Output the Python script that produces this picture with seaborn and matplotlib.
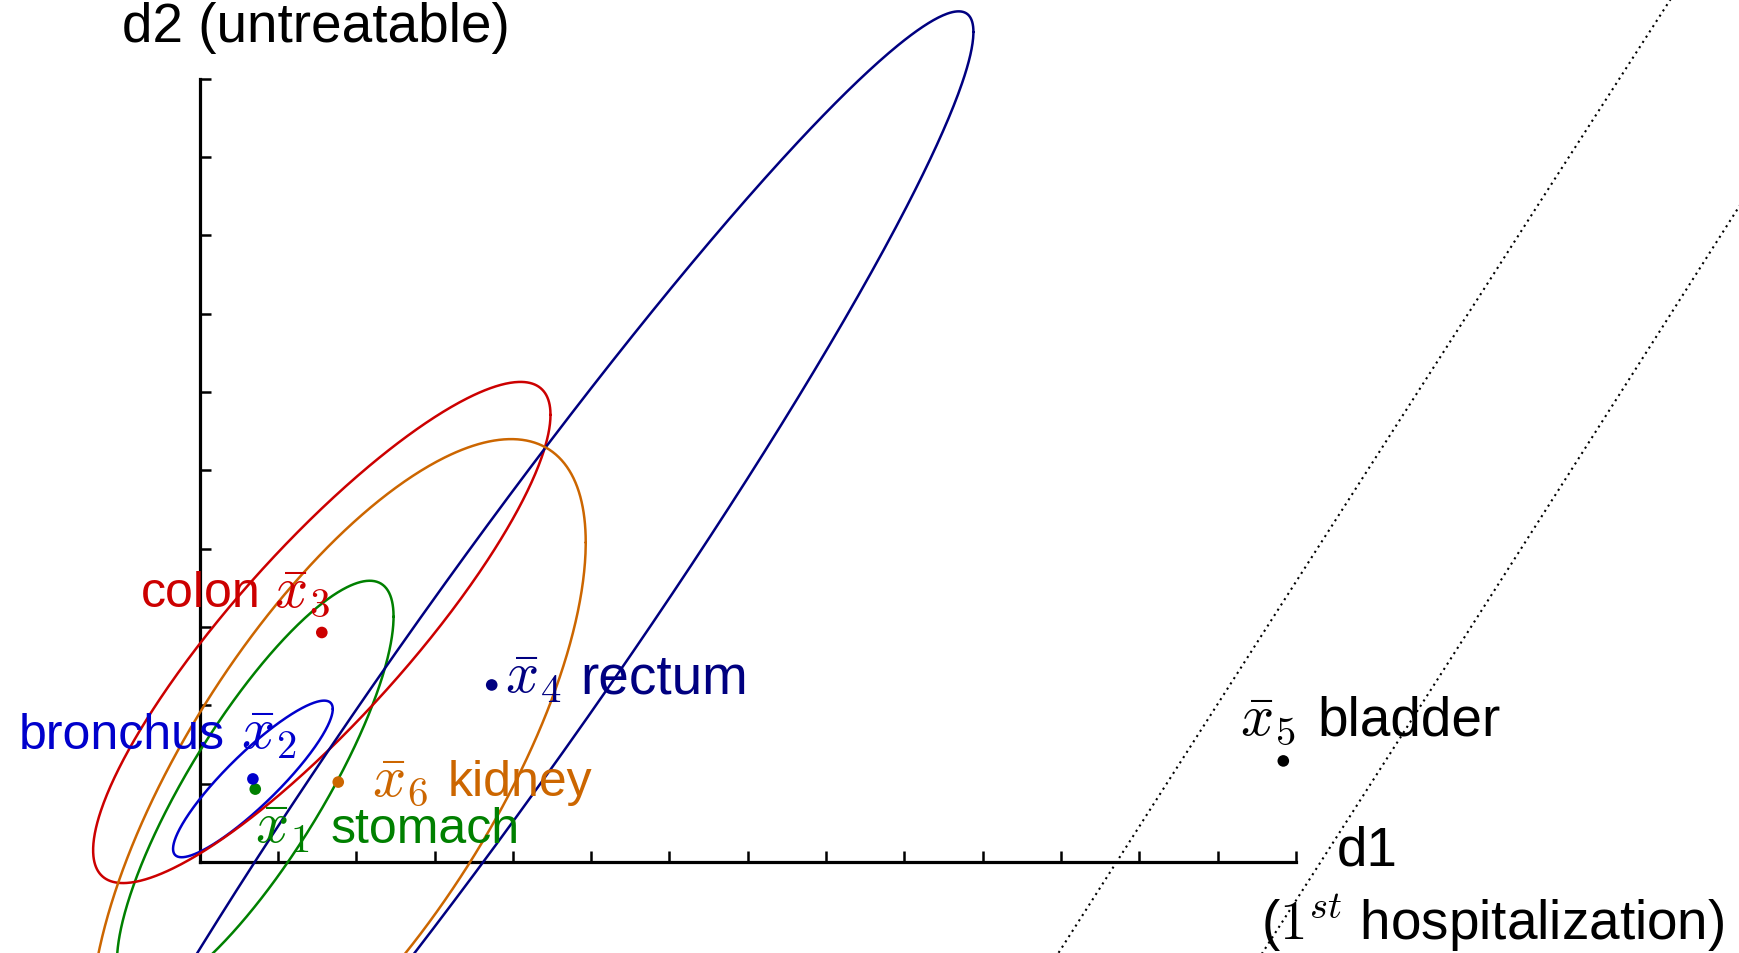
import numpy as np
import pandas as pd
import matplotlib
matplotlib.use("Agg")
import matplotlib.pyplot as plt
import seaborn as sns

# ---- data ----
cancers = ["stomach", "bronchus", "colon", "rectum", "bladder", "kidney"]
mean_d1 = [0.71, 0.68, 1.56, 3.73, 13.84, 1.77]
mean_d2 = [0.93, 1.06, 2.93, 2.26, 1.29, 1.02]
var_d1 = [3.12, 1.04, 8.53, 37.85, 1025.7, 9.99]
var_d2 = [7.08, 1.0, 10.24, 74.0, 2500.0, 19.18]
cov_12 = [3.89, 0.91, 8.12, 51.3, 1600.0, 9.67]
mean_index = [1, 2, 3, 4, 5, 6]
x_ticks = list(range(1, 15))
y_ticks = list(range(1, 11))

colors = {"stomach": "#008000", "bronchus": "#0000CC", "colon": "#CC0000",
          "rectum": "#000080", "bladder": "#000000", "kidney": "#CC6600"}

sns.set_theme(style="white")
plt.rcParams["font.family"] = ["Liberation Sans", "DejaVu Sans"]
plt.rcParams["mathtext.fontset"] = "cm"
plt.rcParams["text.color"] = "black"

fig = plt.figure(figsize=(17.39, 9.54), dpi=100)
ax = fig.add_axes([0, 0, 1, 1])

# ellipses from covariance matrices
t = np.linspace(0, 2 * np.pi, 721)
for i, c in enumerate(cancers):
    S = np.array([[var_d1[i], cov_12[i]], [cov_12[i], var_d2[i]]])
    L = np.linalg.cholesky(S)
    pts = L @ np.vstack([np.cos(t), np.sin(t)])
    df = pd.DataFrame({"d1": mean_d1[i] + pts[0], "d2": mean_d2[i] + pts[1]})
    if c == "bladder":
        sns.lineplot(data=df, x="d1", y="d2", sort=False, estimator=None, ax=ax,
                     color=colors[c], linewidth=1.5, linestyle=(0, (1, 2)))
    else:
        sns.lineplot(data=df, x="d1", y="d2", sort=False, estimator=None, ax=ax,
                     color=colors[c], linewidth=1.8)

means = pd.DataFrame({"cancer": cancers, "d1": mean_d1, "d2": mean_d2})
sns.scatterplot(data=means, x="d1", y="d2", hue="cancer", palette=colors,
                s=70, linewidth=0, legend=False, ax=ax, zorder=5)

# labels: (word x, math x, baseline y, word font size)
label_layout = {
    "stomach": (1.671, 0.708, 0.25, 36),
    "bronchus": (-2.309, 0.524, 1.46, 36),
    "colon": (-0.751, 0.949, 3.27, 36),
    "rectum": (4.858, 3.895, 2.17, 39.5),
    "bladder": (14.278, 13.286, 1.63, 39.5),
    "kidney": (3.173, 2.195, 0.86, 36),
}
math_fs = 42
for c, k in zip(cancers, mean_index):
    wx, mx, by, wfs = label_layout[c]
    ax.text(wx, by, c, color=colors[c], fontsize=wfs, ha="left", va="baseline", zorder=6)
    ax.text(mx, by, rf"$\bar{{x}}_{k}$", color=colors[c], fontsize=math_fs,
            ha="left", va="baseline", zorder=6)

ax.text(-0.99, 10.48, "d2 (untreatable)", fontsize=39.5, ha="left", va="baseline", color="black")
ax.text(14.52, -0.03, "d1", fontsize=39.5, ha="left", va="baseline", color="black")
ax.text(13.55, -0.99, r"($1^{st}$ hospitalization)", fontsize=39.5, ha="left",
        va="baseline", color="black")

# axes through origin
ax.set_xlim(-2.55, 19.66)
ax.set_ylim(-1.163, 11.02)
for side in ["top", "right"]:
    ax.spines[side].set_visible(False)
ax.spines["left"].set_position(("data", 0))
ax.spines["bottom"].set_position(("data", 0))
ax.spines["left"].set_bounds(0, 10)
ax.spines["bottom"].set_bounds(0, 14)
for side in ["left", "bottom"]:
    ax.spines[side].set_linewidth(2.3)
    ax.spines[side].set_color("black")
    ax.spines[side].set_zorder(1)
ax.set_xticks(x_ticks)
ax.set_yticks(y_ticks)
ax.tick_params(direction="in", length=8, width=1.8, color="black",
               bottom=True, left=True, labelbottom=False, labelleft=False)
ax.set_xlabel("")
ax.set_ylabel("")
ax.patch.set_alpha(0)

fig.savefig("out.png", dpi=100, facecolor="white")
